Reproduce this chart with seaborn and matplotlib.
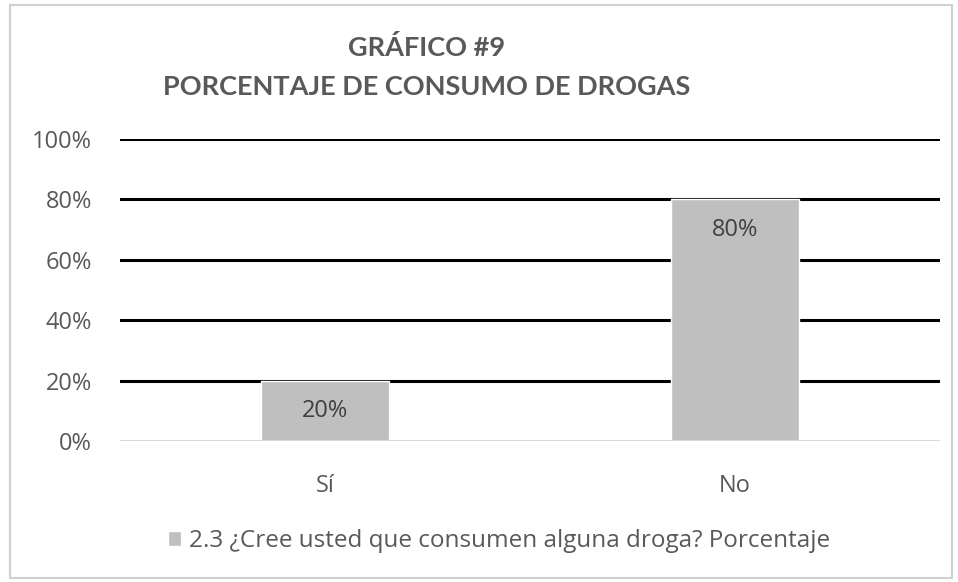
import matplotlib
matplotlib.use("Agg")
import matplotlib.pyplot as plt
import seaborn as sns
import pandas as pd
from matplotlib.patches import Rectangle

categories = ["Sí", "No"]
values = [20, 80]
yticks = [0, 20, 40, 60, 80, 100]
title_lines = ["GRÁFICO #9", "PORCENTAJE DE CONSUMO DE DROGAS"]
legend_label = "2.3 ¿Cree usted que consumen alguna droga? Porcentaje"

sns.set_theme(style="white")
plt.rcParams['font.family'] = ['Open Sans', 'DejaVu Sans']

df = pd.DataFrame({"cat": categories, "val": values})

fig = plt.figure(figsize=(9.58, 5.82), dpi=100)
W, H = 958, 582
ax = fig.add_axes([120 / W, 1 - 441 / H, 820 / W, (441 - 139) / H])

bar_color = "#BFBFBF"
sns.barplot(data=df, x="cat", y="val", color=bar_color, width=0.31, ax=ax,
            saturation=1, zorder=3, label=legend_label)

ax.set_xlim(-0.5, 1.5)
ax.set_ylim(0, 100)
ax.set_yticks(yticks)
ax.set_yticklabels([f"{t}%" for t in yticks])
for t in yticks[1:]:
    ax.axhline(t, color="black", lw=2.2, zorder=2)
ax.axhline(0, color="#D9D9D9", lw=1.5, zorder=4)

for s in ax.spines.values():
    s.set_visible(False)
ax.tick_params(axis="both", length=0, labelsize=17, colors="#595959")
ax.tick_params(axis="y", pad=20)
ax.tick_params(axis="x", pad=24)
ax.set_xlabel("")
ax.set_ylabel("")

for i, v in enumerate(values):
    ax.text(i, v - 10, f"{v}%", ha="center", va="center", fontsize=17, color="#404040", zorder=5)

fig.text(427 / W, 1 - 48 / H, title_lines[0], ha="center", va="center",
         fontsize=19.5, fontweight="bold", color="#595959", family="Lato")
fig.text(427 / W, 1 - 87 / H, title_lines[1], ha="center", va="center",
         fontsize=19.5, fontweight="bold", color="#595959", family="Lato")

leg = ax.legend(loc="center", bbox_to_anchor=(499 / W, 1 - 541 / H), bbox_transform=fig.transFigure,
                frameon=False, fontsize=17.5, handlelength=0.55, handleheight=0.55, handletextpad=0.3,
                labelcolor="#595959")

fig.patches.append(Rectangle((10 / W, 4 / H), 942 / W, 573 / H, transform=fig.transFigure,
                             fill=False, edgecolor="#D0D0D0", lw=1.5))

fig.savefig("out.png", dpi=100, facecolor="white")
